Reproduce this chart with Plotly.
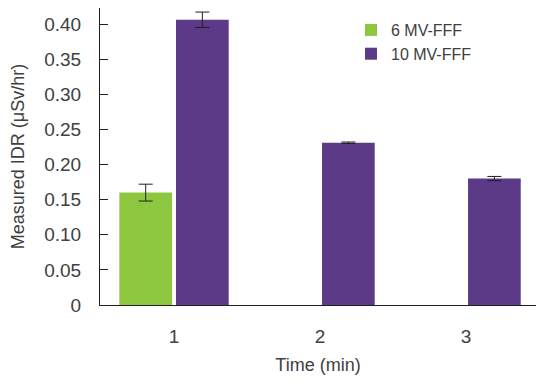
import plotly.graph_objects as go

categories = [1, 2, 3]
tick_labels = ["1", "2", "3"]
mv6_values = [0.160, None, None]
mv6_errors = [0.012, 0, 0]
mv10_values = [0.406, 0.231, 0.180]
mv10_errors = [0.011, 0.001, 0.003]

font_family = "Liberation Sans, Arial, sans-serif"
text_color = "#404040"
axis_color = "#231f20"

fig = go.Figure()
fig.add_trace(go.Bar(
    name="6 MV-FFF", x=categories, y=mv6_values,
    marker=dict(color="#8dc63f", line=dict(width=0)),
    error_y=dict(type="data", array=mv6_errors, color=axis_color, thickness=1, width=7),
))
fig.add_trace(go.Bar(
    name="10 MV-FFF", x=categories, y=mv10_values,
    marker=dict(color="#5c3a87", line=dict(width=0)),
    error_y=dict(type="data", array=mv10_errors, color=axis_color, thickness=1, width=7),
))

fig.update_layout(
    width=536, height=382,
    margin=dict(l=100, r=0, t=8, b=77, autoexpand=False),
    paper_bgcolor="white", plot_bgcolor="white",
    barmode="group", bargap=0.224, bargroupgap=0.07,
    font=dict(family=font_family, size=19, color=text_color),
    showlegend=True,
    legend=dict(
        x=(351 - 100) / 436, y=1 - (13 - 8) / 297, xanchor="left", yanchor="top",
        font=dict(size=16, color=text_color), bgcolor="rgba(0,0,0,0)",
        tracegroupgap=3, itemwidth=30,
    ),
)
fig.update_xaxes(
    range=[0.493, 3.479], tickvals=categories, ticktext=tick_labels,
    showline=True, linecolor=axis_color, linewidth=1,
    ticks="", showgrid=False, zeroline=False, automargin=False,
    ticklabelstandoff=14,
    title=dict(text="Time (min)", font=dict(size=18, color=text_color), standoff=12),
)
fig.update_yaxes(
    range=[0, 0.4228], tickvals=[0, 0.05, 0.10, 0.15, 0.20, 0.25, 0.30, 0.35, 0.40],
    ticktext=["0", "0.05", "0.10", "0.15", "0.20", "0.25", "0.30", "0.35", "0.40"],
    showline=True, linecolor=axis_color, linewidth=1,
    ticks="inside", ticklen=8, tickcolor=axis_color, tickwidth=1,
    showgrid=False, zeroline=False, automargin=False,
    ticklabelstandoff=14,
    title=dict(text="Measured IDR (μSv/hr)", font=dict(size=18, color=text_color), standoff=14),
)

fig.write_html("out.html", config={"displayModeBar": False},
               post_script="document.body.style.margin='0';")
